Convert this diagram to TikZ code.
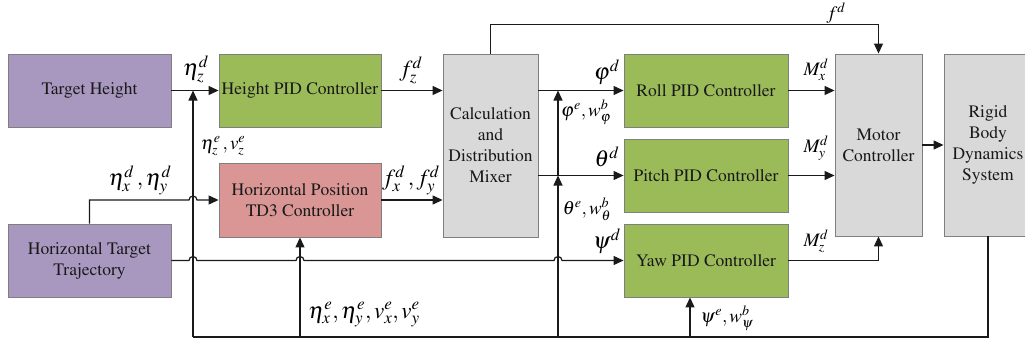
\documentclass[tikz,border=0pt]{standalone}
\usepackage[T1]{fontenc}
\usepackage{mathptmx}
\usetikzlibrary{arrows.meta}
\definecolor{purp}{HTML}{A898C0}
\definecolor{grn}{HTML}{9BBB59}
\definecolor{redb}{HTML}{D99694}
\definecolor{gry}{HTML}{D9D9D9}
\definecolor{bord}{HTML}{7F7F7F}
\definecolor{ln}{HTML}{1A1A1A}
\begin{document}
\begin{tikzpicture}[x=1pt,y=-1pt,
  box/.style={draw=bord,line width=0.9pt,inner sep=2pt,align=center,
    font=\rmfamily\fontsize{17.5}{21}\selectfont,text=black!90},
  conn/.style={draw=ln,line width=1.2pt},
  arr/.style={conn,-{Triangle[length=10pt,width=9pt]}},
  big/.style={inner sep=0pt,font=\fontsize{23}{26}\selectfont},
  small/.style={inner sep=0pt,font=\fontsize{19}{22}\selectfont}]
\useasboundingbox (0,0) rectangle (1025,345);
\fill[white] (0,0) rectangle (1025,345);
% boxes
\node[box,fill=purp,minimum width=163pt,minimum height=73pt] (th) at (89.5,90.5) {Target Height};
\node[box,fill=grn,minimum width=162pt,minimum height=73pt] (hpid) at (300,90.5) {Height PID Controller};
\node[box,fill=redb,minimum width=162pt,minimum height=74pt] (td3) at (300,200) {Horizontal Position\\TD3 Controller};
\node[box,fill=purp,minimum width=163pt,minimum height=73pt] (htt) at (89.5,260.5) {Horizontal Target\\Trajectory};
\node[box,fill=gry,minimum width=95pt,minimum height=183pt] (mix) at (490.5,145.5) {Calculation\\and\\Distribution\\Mixer};
\node[box,fill=grn,minimum width=164pt,minimum height=73pt] (roll) at (706,90.5) {Roll PID Controller};
\node[box,fill=grn,minimum width=164pt,minimum height=73pt] (pitch) at (706,175.5) {Pitch PID Controller};
\node[box,fill=grn,minimum width=164pt,minimum height=73pt] (yaw) at (706,260.5) {Yaw PID Controller};
\node[box,fill=gry,minimum width=87pt,minimum height=182pt] (motor) at (878.5,145) {Motor\\Controller};
\node[box,fill=gry,minimum width=88pt,minimum height=182pt] (rigid) at (988,145) {Rigid\\Body\\Dynamics\\System};
% coordinates
\coordinate (bl) at (193,337);
\coordinate (v3) at (558,337);
% connectors
\draw[arr] (th.east) -- (hpid.west);
\draw[arr] (bl) -- (bl |- th.east);
\draw[arr] (hpid.east) -- (hpid.east -| mix.west);
\draw[arr] (htt.north) -- (htt.north |- td3.west) -- (189,200) arc[start angle=180,end angle=360,radius=4] -- (td3.west);
\draw[arr] (td3.east) -- (td3.east -| mix.west);
\draw[arr] (mix.north) -- ++(0,-29) -| (motor.north);
\draw[arr] (mix.east |- roll.west) -- (roll.west);
\draw[arr] (mix.east |- pitch.west) -- (pitch.west);
\draw[arr] (htt.east) -- (189,260.5) arc[start angle=180,end angle=360,radius=4]
  -- (296,260.5) arc[start angle=180,end angle=360,radius=4]
  -- (554,260.5) arc[start angle=180,end angle=360,radius=4] -- (yaw.west);
\draw[arr] (td3.south |- bl) -- (td3.south);
\draw[arr] (v3) -- (v3 |- pitch.west);
\draw[arr] (v3 |- pitch.west) -- (v3 |- roll.west);
\draw[arr] ([xshift=-16pt]yaw.south |- bl) -- ([xshift=-16pt]yaw.south);
\draw[arr] (roll.east) -- (roll.east -| motor.west);
\draw[arr] (pitch.east) -- (pitch.east -| motor.west);
\draw[arr] (yaw.east) -| (motor.south);
\draw[arr] (motor.east) -- (rigid.west);
\draw[conn] (rigid.south) |- (bl);
% labels
\node[big] (l1) at (196,69) {$\eta_z^d$};
\node[small] (l2) at (223,146) {$\eta_z^e\,, v_z^e$};
\node[big] (l3) at (140,180) {$\eta_x^d\,,\eta_y^d$};
\node[big] (l4) at (411,70) {$f_z^d$};
\node[big] (l5) at (411,180) {$f_x^d\,, f_y^d$};
\node[big] (l6) at (364,315) {$\eta_x^e,\eta_y^e,v_x^e,v_y^e$};
\node[big] (l7) at (607,72) {$\varphi^d$};
\node[big] (l8) at (607,157) {$\theta^d$};
\node[big] (l9) at (607,241) {$\psi^d$};
\node[small] (l10) at (586,112) {$\varphi^e, w_\varphi^b$};
\node[small] (l11) at (587,209) {$\theta^e, w_\theta^b$};
\node[small] (l12) at (727,318) {$\psi^e, w_\psi^b$};
\node[small] (l13) at (836,13) {$f^d$};
\node[small] (l14) at (816,70) {$M_x^d$};
\node[small] (l15) at (816,148) {$M_y^d$};
\node[small] (l16) at (816,241) {$M_z^d$};
\end{tikzpicture}
\end{document}
